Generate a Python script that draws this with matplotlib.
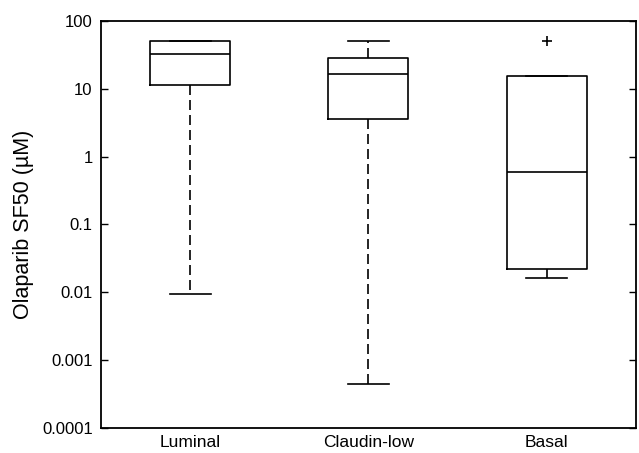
import matplotlib.pyplot as plt
from matplotlib.ticker import FixedLocator, NullLocator

plt.rcParams['font.family'] = ['Liberation Sans', 'DejaVu Sans']

groups = ['Luminal', 'Claudin-low', 'Basal']
whisker_low = [0.0096, 0.00045, 0.0162]
q1 = [11.3, 3.6, 0.022]
median = [32.5, 16.5, 0.59]
q3 = [50.0, 28.0, 15.6]
whisker_high = [50.0, 50.0, 15.6]
outliers = [[], [], [50.0]]

stats = []
for i, name in enumerate(groups):
    stats.append({
        'label': name,
        'whislo': whisker_low[i],
        'q1': q1[i],
        'med': median[i],
        'q3': q3[i],
        'whishi': whisker_high[i],
        'fliers': outliers[i],
    })

fig = plt.figure(figsize=(6.39, 4.53), dpi=100)
ax = fig.add_axes([0.158, 0.055, 0.837, 0.899])

ax.bxp(stats, positions=[1, 2, 3], widths=0.45, capwidths=0.23,
       boxprops=dict(color='black', linewidth=1.2),
       medianprops=dict(color='black', linewidth=1.2),
       whiskerprops=dict(color='black', linewidth=1.2, linestyle=(0, (6, 3))),
       capprops=dict(color='black', linewidth=1.2),
       flierprops=dict(marker='+', markeredgecolor='black', markersize=7,
                       markeredgewidth=1.2))

ax.set_yscale('log')
ax.set_ylim(0.0001, 100)
ax.set_xlim(0.5, 3.5)
yt = [0.0001, 0.001, 0.01, 0.1, 1, 10, 100]
ax.yaxis.set_major_locator(FixedLocator(yt))
ax.yaxis.set_minor_locator(NullLocator())
ax.set_yticklabels(['0.0001', '0.001', '0.01', '0.1', '1', '10', '100'])
ax.tick_params(axis='y', direction='in', length=5, width=1, right=True,
               labelsize=12, pad=6)
ax.tick_params(axis='x', length=0, labelsize=12.5, pad=5)
for s in ax.spines.values():
    s.set_linewidth(1.3)

ax.set_ylabel('Olaparib SF50 (\u00b5M)', fontsize=15.5, labelpad=6)

fig.savefig('out.png', dpi=100)
